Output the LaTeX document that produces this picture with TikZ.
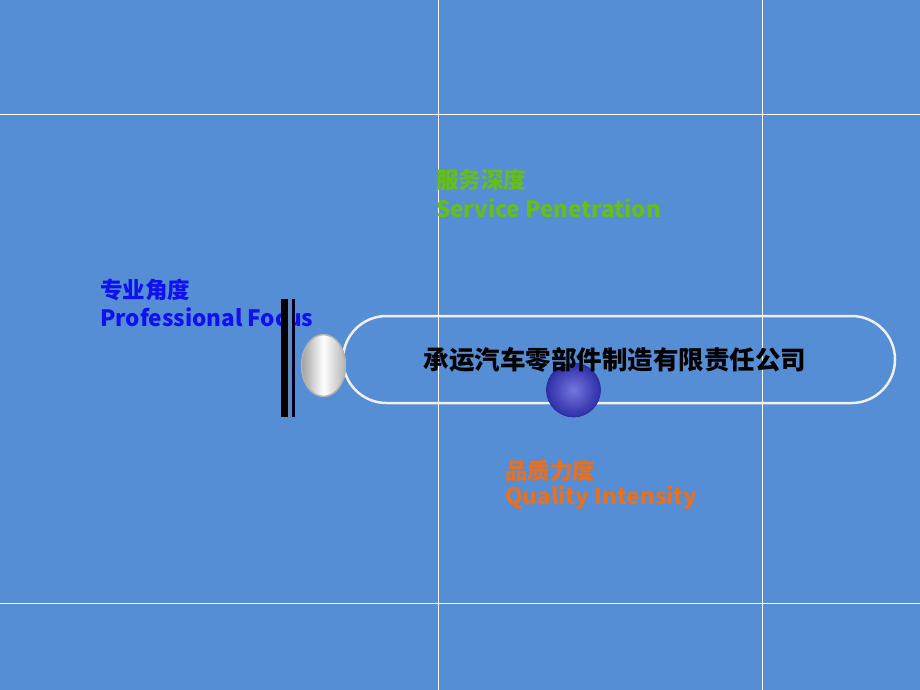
\documentclass[tikz,border=0pt]{standalone}
\usepackage{fontspec}
\setmainfont{Noto Sans CJK SC}
\definecolor{bgblue}{RGB}{85,142,213}
\definecolor{pillwhite}{RGB}{238,240,244}
\definecolor{greentext}{RGB}{102,190,24}
\definecolor{orangetext}{RGB}{232,112,30}
\definecolor{bluetext}{RGB}{16,16,240}
\definecolor{ballblue}{RGB}{58,58,210}
\tikzset{
  gridline/.style={white, line width=1pt},
  labeltext/.style={anchor=west, inner sep=0pt, font=\fontsize{22.5}{26}\selectfont\bfseries},
}
\begin{document}
\begin{tikzpicture}[x=1pt, y=-1pt, line join=round, line cap=round]
	\path
	(0,0) coordinate (NW)
	(920,690) coordinate (SE)
	(438,0) coordinate (V1) (438,690) coordinate (V1e)
	(762,0) coordinate (V2) (762,690) coordinate (V2e)
	(0,115) coordinate (H1) (920,115) coordinate (H1e)
	(0,603) coordinate (H2) (920,603) coordinate (H2e)
	(323.5,365.5) coordinate (E)
	(573.5,390) coordinate (B)
	;
	\useasboundingbox (NW) rectangle (SE);
	\fill[bgblue] (NW) rectangle (SE);
	% grid
	\draw[gridline] (V1)--(V1e);
	\draw[gridline] (V2)--(V2e);
	\draw[gridline] (H1)--(H1e);
	\draw[gridline] (H2)--(H2e);
	% labels
	\node[labeltext, text=greentext] (serviceCn) at (436,180) {服务深度};
	\node[labeltext, text=greentext] (serviceEn) at (436,208) {Service Penetration};
	\node[labeltext, text=bluetext] (focusCn) at (100,290) {专业角度};
	\node[labeltext, text=bluetext] (focusEn) at (100,317) {Professional Focus};
	\node[labeltext, text=orangetext] (qualityCn) at (505,471) {品质力度};
	\node[labeltext, text=orangetext] (qualityEn) at (505,498) {Quality Intensity};
	% pill and ball
	\draw[pillwhite, line width=2.5pt, rounded corners=43.5pt] (343,316) rectangle (895,403);
	\shade[inner color=ballblue!70!white, outer color=ballblue!80!black] (B) circle (27pt);
	\draw[ballblue!70!black, line width=0.6pt] (B) circle (27pt);
	\node[font=\fontsize{25.5}{28}\selectfont\bfseries, inner sep=0pt] (company) at (615,360) {承运汽车零部件制造有限责任公司};
	% bars and knob
	\fill[black] (281,299) rectangle (288,417);
	\fill[bgblue!75!gray] (288,299) rectangle (292,417);
	\fill[black!85!blue] (292,299) rectangle (295,417);
	\draw[gray!60, line width=1.5pt, left color=gray!75, right color=gray!60, middle color=white] (E) ellipse (22pt and 31pt);
\end{tikzpicture}
\end{document}
